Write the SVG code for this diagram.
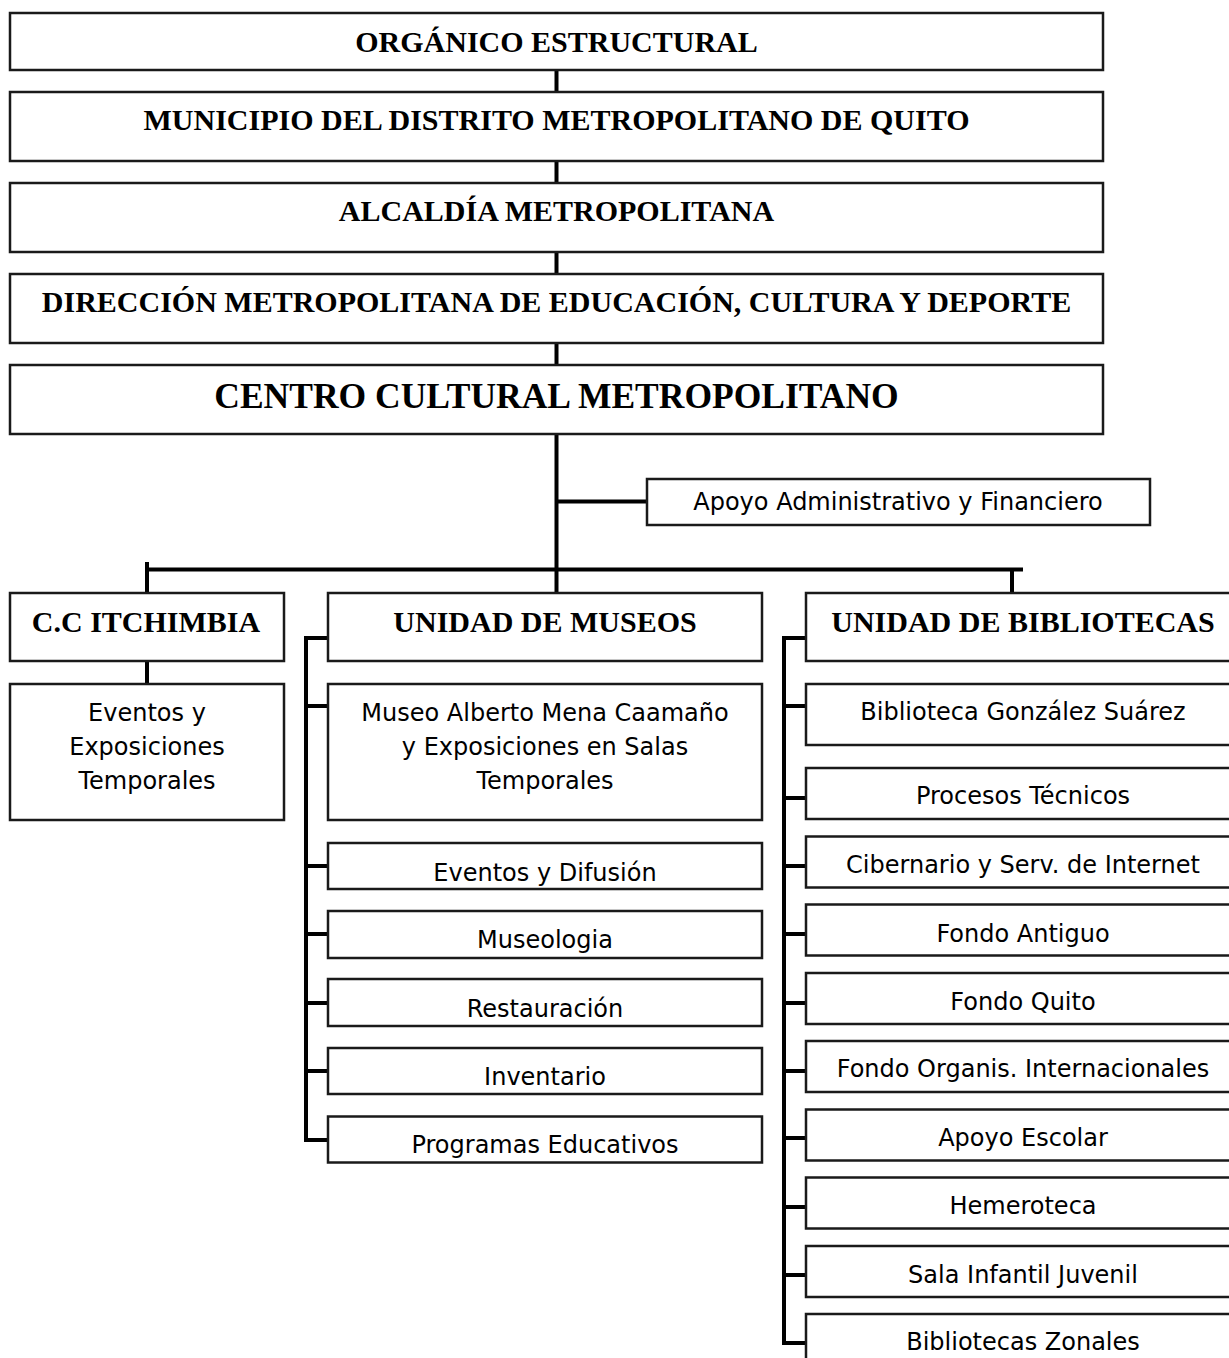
<svg xmlns="http://www.w3.org/2000/svg" width="1229" height="1358" viewBox="0 0 1229 1358">
<style>
.box{fill:#fff;stroke:#1a1a1a;stroke-width:2.5}
.conn{stroke:#000;stroke-width:4;fill:none;stroke-linecap:butt}
.tb{font-family:"Liberation Serif","Times New Roman",serif;font-weight:bold;font-size:30px;text-anchor:middle;fill:#000}
.tbl{font-size:35.5px}
.ts{font-family:"DejaVu Sans",Verdana,sans-serif;font-size:24px;text-anchor:middle;fill:#000}
</style>
<rect x="0" y="0" width="1229" height="1358" fill="#fff"/>
<g id="connectors">
<path class="conn" d="M556.5 70V92M556.5 161V183M556.5 252V274M556.5 343V365M556.5 434V593"/>
<path class="conn" d="M556.5 501.5H647"/>
<path class="conn" d="M145 569.5H1023M147 562V593M1012 569.5V593"/>
<path class="conn" d="M147 661V684"/>
<path class="conn" d="M328 638H306V1140H328M306 706H328M306 866H328M306 934H328M306 1003H328M306 1071H328"/>
<path class="conn" d="M806 638H784V1343H806M784 706H806M784 798H806M784 866H806M784 934H806M784 1003H806M784 1071H806M784 1138H806M784 1207H806M784 1275H806"/>
</g>
<g id="n-organico"><rect class="box" x="10" y="13" width="1093" height="57"/><text class="tb" x="556.5" y="51.7">ORGÁNICO ESTRUCTURAL</text></g>
<g id="n-municipio"><rect class="box" x="10" y="92" width="1093" height="69"/><text class="tb" x="556.5" y="130">MUNICIPIO DEL DISTRITO METROPOLITANO DE QUITO</text></g>
<g id="n-alcaldia"><rect class="box" x="10" y="183" width="1093" height="69"/><text class="tb" x="556.5" y="220.7">ALCALDÍA METROPOLITANA</text></g>
<g id="n-direccion"><rect class="box" x="10" y="274" width="1093" height="69"/><text class="tb" x="556.5" y="311.7">DIRECCIÓN METROPOLITANA DE EDUCACIÓN, CULTURA Y DEPORTE</text></g>
<g id="n-centro"><rect class="box" x="10" y="365" width="1093" height="69"/><text class="tb tbl" x="556.5" y="408.3">CENTRO CULTURAL METROPOLITANO</text></g>
<g id="n-apoyo-adm"><rect class="box" x="647" y="479" width="503" height="46"/><text class="ts" x="898" y="510">Apoyo Administrativo y Financiero</text></g>
<g id="n-itchimbia"><rect class="box" x="10" y="593" width="274" height="68"/><text class="tb" x="146" y="632.3">C.C ITCHIMBIA</text></g>
<g id="n-eventos-exp"><rect class="box" x="10" y="684" width="274" height="136"/><text class="ts" x="147" y="721">Eventos y</text><text class="ts" x="147" y="755">Exposiciones</text><text class="ts" x="147" y="788.5">Temporales</text></g>
<g id="n-museos"><rect class="box" x="328" y="593" width="434" height="68"/><text class="tb" x="545" y="632.3">UNIDAD DE MUSEOS</text></g>
<g id="n-museo-amc"><rect class="box" x="328" y="684" width="434" height="136"/><text class="ts" x="545" y="721">Museo Alberto Mena Caamaño</text><text class="ts" x="545" y="755">y Exposiciones en Salas</text><text class="ts" x="545" y="788.5">Temporales</text></g>
<g id="n-eventos-dif"><rect class="box" x="328" y="843" width="434" height="46"/><text class="ts" x="545" y="880.7">Eventos y Difusión</text></g>
<g id="n-museologia"><rect class="box" x="328" y="911" width="434" height="47"/><text class="ts" x="545" y="948">Museologia</text></g>
<g id="n-restauracion"><rect class="box" x="328" y="979" width="434" height="47"/><text class="ts" x="545" y="1016.7">Restauración</text></g>
<g id="n-inventario"><rect class="box" x="328" y="1048" width="434" height="46"/><text class="ts" x="545" y="1085">Inventario</text></g>
<g id="n-programas"><rect class="box" x="328" y="1116.5" width="434" height="46"/><text class="ts" x="545" y="1152.7">Programas Educativos</text></g>
<g id="n-bibliotecas"><rect class="box" x="806" y="593" width="433" height="68"/><text class="tb" x="1023" y="631.7">UNIDAD DE BIBLIOTECAS</text></g>
<g id="n-gonzalez"><rect class="box" x="806" y="684" width="433" height="61"/><text class="ts" x="1023" y="720">Biblioteca González Suárez</text></g>
<g id="n-procesos"><rect class="box" x="806" y="768" width="433" height="51"/><text class="ts" x="1023" y="804">Procesos Técnicos</text></g>
<g id="n-cibernario"><rect class="box" x="806" y="836.5" width="433" height="51"/><text class="ts" x="1023" y="872.7">Cibernario y Serv. de Internet</text></g>
<g id="n-fondo-antiguo"><rect class="box" x="806" y="904.5" width="433" height="51"/><text class="ts" x="1023" y="941.7">Fondo Antiguo</text></g>
<g id="n-fondo-quito"><rect class="box" x="806" y="973" width="433" height="51"/><text class="ts" x="1023" y="1010">Fondo Quito</text></g>
<g id="n-fondo-organis"><rect class="box" x="806" y="1041" width="433" height="51"/><text class="ts" x="1023" y="1076.7">Fondo Organis. Internacionales</text></g>
<g id="n-apoyo-escolar"><rect class="box" x="806" y="1109.5" width="433" height="51"/><text class="ts" x="1023" y="1145.7">Apoyo Escolar</text></g>
<g id="n-hemeroteca"><rect class="box" x="806" y="1177.5" width="433" height="51"/><text class="ts" x="1023" y="1214">Hemeroteca</text></g>
<g id="n-sala-infantil"><rect class="box" x="806" y="1246" width="433" height="51"/><text class="ts" x="1023" y="1282.7">Sala Infantil Juvenil</text></g>
<g id="n-zonales"><rect class="box" x="806" y="1314" width="433" height="51"/><text class="ts" x="1023" y="1350">Bibliotecas Zonales</text></g>
</svg>
